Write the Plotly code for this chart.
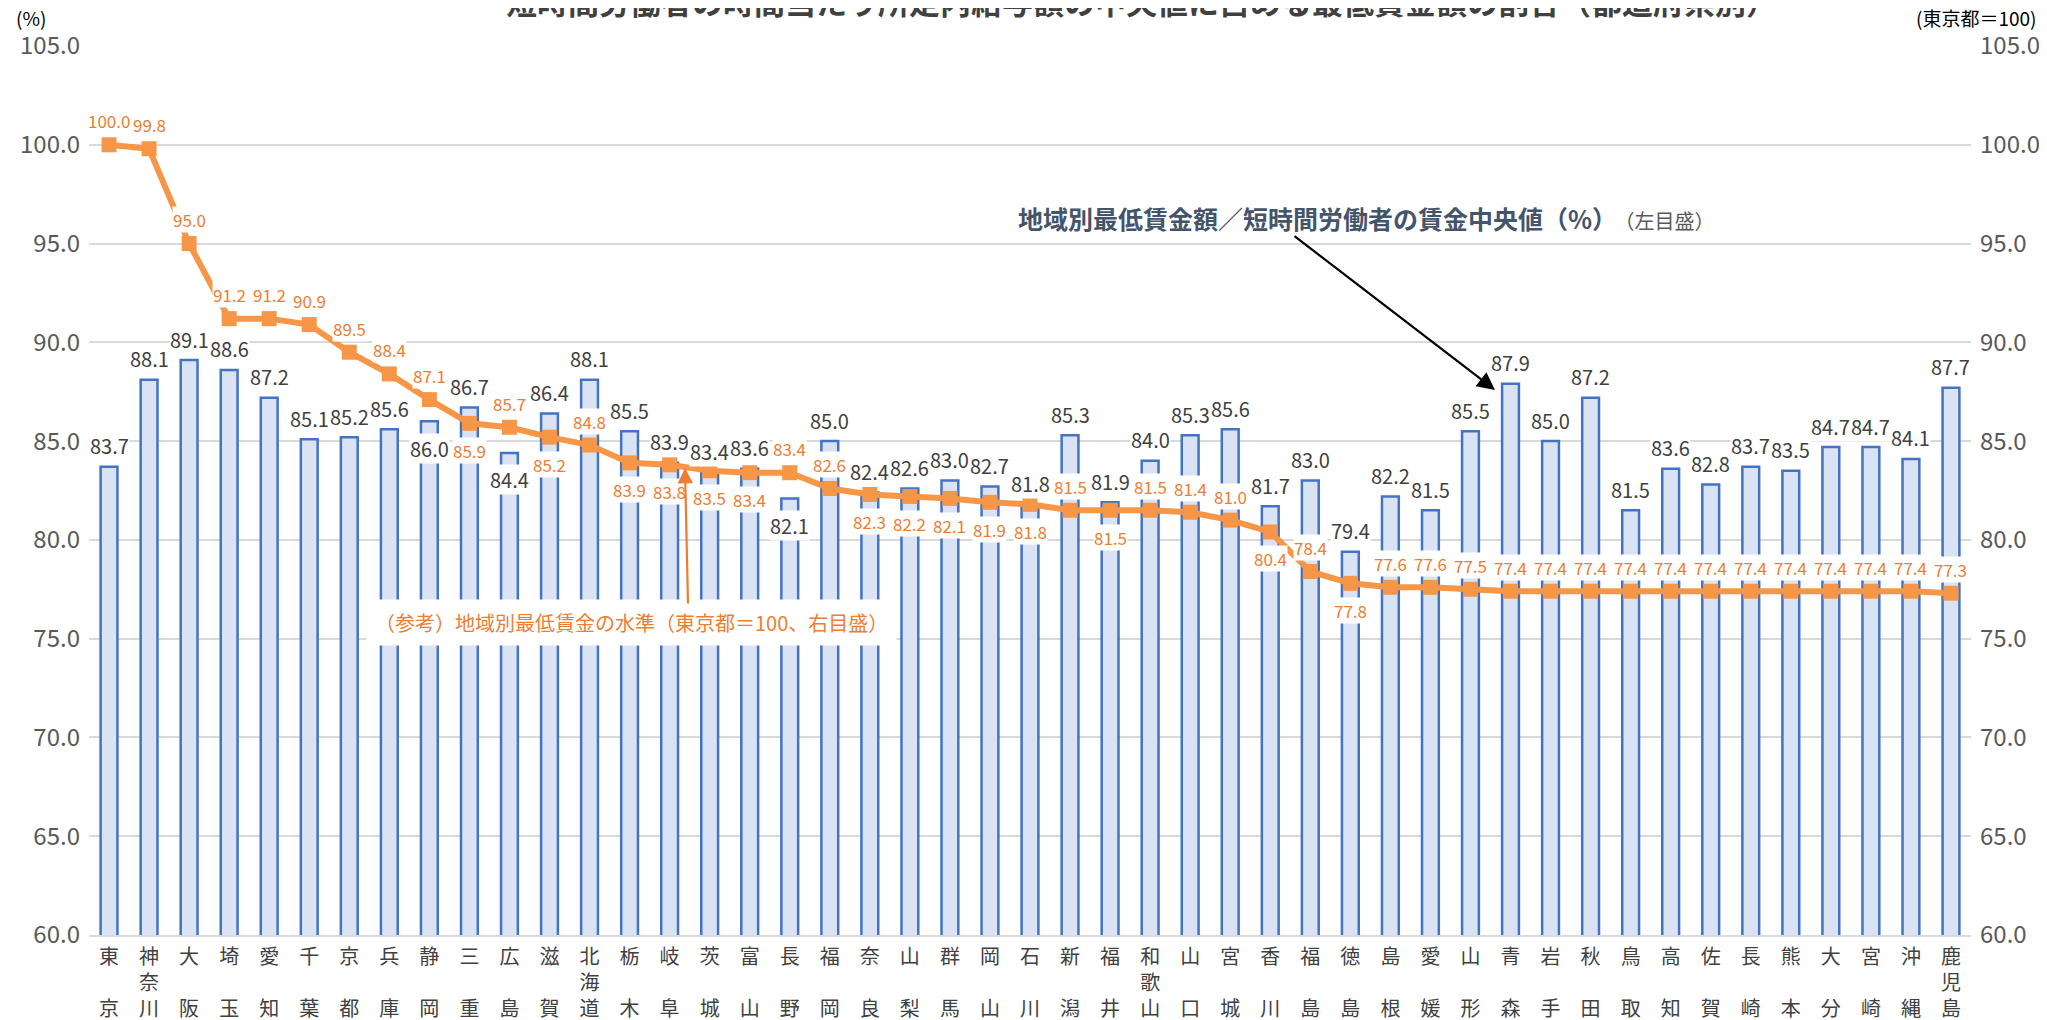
import plotly.graph_objects as go

# ---------------- data ----------------
prefectures = ["東京", "神奈川", "大阪", "埼玉", "愛知", "千葉", "京都", "兵庫", "静岡", "三重",
               "広島", "滋賀", "北海道", "栃木", "岐阜", "茨城", "富山", "長野", "福岡", "奈良",
               "山梨", "群馬", "岡山", "石川", "新潟", "福井", "和歌山", "山口", "宮城", "香川",
               "福島", "徳島", "島根", "愛媛", "山形", "青森", "岩手", "秋田", "鳥取", "高知",
               "佐賀", "長崎", "熊本", "大分", "宮崎", "沖縄", "鹿児島"]

# 地域別最低賃金額／短時間労働者の賃金中央値（%）（左目盛）
median_ratio = [83.7, 88.1, 89.1, 88.6, 87.2, 85.1, 85.2, 85.6, 86.0, 86.7,
                84.4, 86.4, 88.1, 85.5, 83.9, 83.4, 83.6, 82.1, 85.0, 82.4,
                82.6, 83.0, 82.7, 81.8, 85.3, 81.9, 84.0, 85.3, 85.6, 81.7,
                83.0, 79.4, 82.2, 81.5, 85.5, 87.9, 85.0, 87.2, 81.5, 83.6,
                82.8, 83.7, 83.5, 84.7, 84.7, 84.1, 87.7]

# （参考）地域別最低賃金の水準（東京都＝100、右目盛）
minwage_index = [100.0, 99.8, 95.0, 91.2, 91.2, 90.9, 89.5, 88.4, 87.1, 85.9,
                 85.7, 85.2, 84.8, 83.9, 83.8, 83.5, 83.4, 83.4, 82.6, 82.3,
                 82.2, 82.1, 81.9, 81.8, 81.5, 81.5, 81.5, 81.4, 81.0, 80.4,
                 78.4, 77.8, 77.6, 77.6, 77.5, 77.4, 77.4, 77.4, 77.4, 77.4,
                 77.4, 77.4, 77.4, 77.4, 77.4, 77.4, 77.3]

y_ticks = [60, 65, 70, 75, 80, 85, 90, 95, 100, 105]

# label placement (style, kept separate from values)
bar_label_below = {"静岡", "広島", "長野"}
line_label_below = {"三重", "滋賀", "栃木", "岐阜", "茨城", "富山", "奈良", "山梨", "群馬",
                    "岡山", "石川", "福井", "香川", "徳島"}

FONT = "Noto Sans CJK JP"
ORANGE = "#F79646"
ORANGE_TXT = "#ED7D31"


def stacked(name):
    chars = list(name)
    if len(chars) == 2:
        chars = [chars[0], "　", chars[1]]
    return "<br>".join(chars)


fig = go.Figure()
fig.add_trace(go.Bar(
    x=prefectures, y=median_ratio, yaxis="y", width=0.42,
    marker=dict(color="#DAE3F3", line=dict(color="#4472C4", width=2.5)),
    hoverinfo="x+y"))
fig.add_trace(go.Scatter(
    x=prefectures, y=minwage_index, yaxis="y2", mode="lines+markers",
    line=dict(color=ORANGE, width=6),
    marker=dict(symbol="square", size=15, color=ORANGE),
    hoverinfo="x+y"))

annotations = []
for p, v in zip(prefectures, median_ratio):
    below = p in bar_label_below
    annotations.append(dict(
        x=p, y=v, xref="x", yref="y", text=f"{v:.1f}", showarrow=False,
        yanchor="middle", yshift=-27 if below else 21,
        bgcolor="white", borderpad=0,
        font=dict(family=FONT, size=20, color="#404040")))
for p, v in zip(prefectures, minwage_index):
    below = p in line_label_below
    annotations.append(dict(
        x=p, y=v, xref="x", yref="y2", text=f"{v:.1f}", showarrow=False,
        yanchor="middle", yshift=-27 if below else 24,
        bgcolor="white", borderpad=0,
        font=dict(family=FONT, size=17, color=ORANGE_TXT)))

# The page body has an 8px margin: the figure is drawn 8px right/down of the window
# origin, so the figure is sized and positioned to compensate.
OFF = 8
W, H = 2047 - OFF, 1020 - OFF
L, T = 89 - OFF, 46 - OFF
R = W - (1971 - OFF)
B = H - (935 - OFF)
PW, PH = W - L - R, H - T - B


def px(xw):  # window pixel x -> paper
    return (xw - OFF - L) / PW


def py(yw):  # window pixel y -> paper
    return (H - B - (yw - OFF)) / PH


# title (partly cut at top as in the reference)
annotations.append(dict(
    x=px(1141), y=py(1), xref="paper", yref="paper", xanchor="center", yanchor="middle",
    text="<b>短時間労働者の時間当たり所定内給与額の中央値に占める最低賃金額の割合（都道府県別）</b>",
    showarrow=False, font=dict(family=FONT, size=31, color="#404040")))
annotations.append(dict(
    x=px(14), y=py(17), xref="paper", yref="paper", xanchor="left", yanchor="middle",
    text="(%)", showarrow=False, font=dict(family=FONT, size=19, color="#000000")))
annotations.append(dict(
    x=px(2038), y=py(17), xref="paper", yref="paper", xanchor="right", yanchor="middle",
    text="(東京都＝100)", showarrow=False, font=dict(family=FONT, size=19, color="#000000")))

# series callouts
annotations.append(dict(
    x=px(1016), y=py(218), xref="paper", yref="paper", xanchor="left", yanchor="middle",
    text="<b>地域別最低賃金額／短時間労働者の賃金中央値（%）</b>"
         "<span style='font-size:20px;color:#595959;font-weight:normal'>　（左目盛）</span>",
    showarrow=False, font=dict(family=FONT, size=25, color="#44546A")))
annotations.append(dict(
    x=px(1495), y=py(390), xref="paper", yref="paper", text="", showarrow=True,
    axref="pixel", ayref="pixel", ax=-202, ay=-155,
    arrowhead=2, arrowsize=1.6, arrowwidth=2.2, arrowcolor="#000000"))

annotations.append(dict(
    x=px(631), y=py(622), xref="paper", yref="paper", xanchor="center", yanchor="middle",
    text="（参考）地域別最低賃金の水準（東京都＝100、右目盛）", showarrow=False,
    bgcolor="white", borderpad=8,
    font=dict(family=FONT, size=20, color=ORANGE_TXT)))
annotations.append(dict(
    x=px(685), y=py(468), xref="paper", yref="paper", text="", showarrow=True,
    axref="pixel", ayref="pixel", ax=3, ay=137,
    arrowhead=2, arrowsize=1.4, arrowwidth=2.2, arrowcolor=ORANGE_TXT))

fig.update_layout(
    width=W, height=H,
    margin=dict(l=L, r=R, t=T, b=B, autoexpand=False),
    paper_bgcolor="white", plot_bgcolor="white",
    showlegend=False,
    font=dict(family=FONT),
    xaxis=dict(
        type="category", tickmode="array", tickvals=prefectures,
        ticktext=[stacked(p) for p in prefectures],
        range=[-0.5, len(prefectures) - 0.5], autorange=False,
        tickfont=dict(family=FONT, size=20, color="#404040"),
        showgrid=False, zeroline=False, showline=True, linecolor="#D9D9D9", linewidth=2,
        ticks="", ticklabelstandoff=3, tickangle=0, automargin=False),
    yaxis=dict(
        range=[60, 105], tickmode="array", tickvals=y_ticks, tickformat=".1f",
        tickfont=dict(family=FONT, size=24, color="#595959"),
        showgrid=True, gridcolor="#D9D9D9", gridwidth=2, zeroline=False,
        showline=False, ticks="", ticklabelstandoff=8, automargin=False),
    yaxis2=dict(
        range=[60, 105], tickmode="array", tickvals=y_ticks, tickformat=".1f",
        overlaying="y", side="right",
        tickfont=dict(family=FONT, size=24, color="#595959"),
        showgrid=False, zeroline=False, showline=False, ticks="", ticklabelstandoff=8,
        automargin=False),
    annotations=annotations,
)

fig.write_html("out.html")
